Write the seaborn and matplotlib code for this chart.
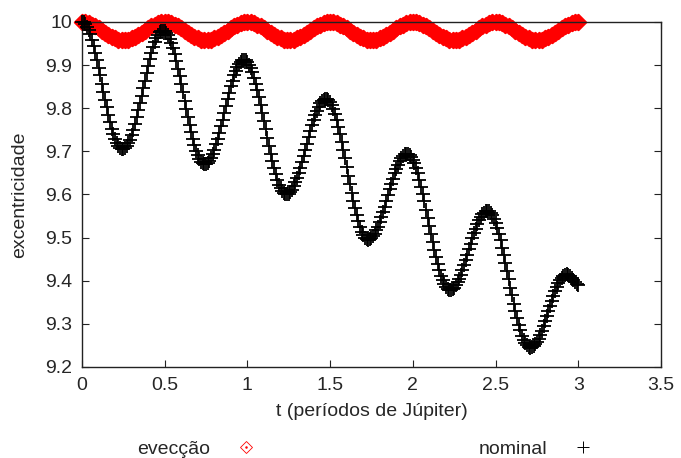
import numpy as np
import pandas as pd
import matplotlib
matplotlib.use("Agg")
import matplotlib.pyplot as plt
from matplotlib.lines import Line2D
import seaborn as sns

# Eccentricity (scaled) vs. time in Jupiter periods
evection = [
    10.000, 9.999, 9.997, 9.994, 9.990, 9.985, 9.980, 9.975, 9.970, 9.966, 9.962, 9.959, 9.958,
    9.958, 9.959, 9.962, 9.966, 9.970, 9.975, 9.980, 9.985, 9.990, 9.994, 9.997, 9.999,
    10.000, 9.999, 9.997, 9.994, 9.990, 9.985, 9.980, 9.975, 9.970, 9.966, 9.962, 9.959, 9.958,
    9.958, 9.959, 9.962, 9.966, 9.970, 9.975, 9.980, 9.985, 9.990, 9.994, 9.997, 9.999,
    10.000, 9.999, 9.997, 9.994, 9.990, 9.985, 9.980, 9.975, 9.970, 9.966, 9.962, 9.959, 9.958,
    9.958, 9.959, 9.962, 9.966, 9.970, 9.975, 9.980, 9.985, 9.990, 9.994, 9.997, 9.999,
    10.000, 9.999, 9.997, 9.994, 9.990, 9.985, 9.980, 9.975, 9.970, 9.966, 9.962, 9.959, 9.958,
    9.958, 9.959, 9.962, 9.966, 9.970, 9.975, 9.980, 9.985, 9.990, 9.994, 9.997, 9.999,
    10.000, 9.999, 9.997, 9.994, 9.990, 9.985, 9.980, 9.975, 9.970, 9.966, 9.962, 9.959, 9.958,
    9.958, 9.959, 9.962, 9.966, 9.970, 9.975, 9.980, 9.985, 9.990, 9.994, 9.997, 9.999,
    10.000, 9.999, 9.997, 9.994, 9.990, 9.985, 9.980, 9.975, 9.970, 9.966, 9.962, 9.959, 9.958,
    9.958, 9.959, 9.962, 9.966, 9.970, 9.975, 9.980, 9.985, 9.990, 9.994, 9.997, 9.999,
    10.000,
]

nominal = [
    10.000, 9.999, 9.995, 9.989, 9.981, 9.971, 9.958, 9.944, 9.929, 9.912, 9.894, 9.876, 9.857,
    9.838, 9.820, 9.802, 9.784, 9.768, 9.753, 9.740, 9.729, 9.720, 9.713, 9.708, 9.705,
    9.705, 9.708, 9.712, 9.719, 9.727, 9.738, 9.750, 9.764, 9.779, 9.795, 9.812, 9.829, 9.847,
    9.864, 9.882, 9.898, 9.914, 9.928, 9.941, 9.953, 9.962, 9.970, 9.976, 9.979, 9.980,
    9.979, 9.975, 9.969, 9.961, 9.951, 9.939, 9.925, 9.909, 9.892, 9.874, 9.856, 9.837, 9.817,
    9.798, 9.779, 9.761, 9.744, 9.728, 9.714, 9.701, 9.691, 9.682, 9.676, 9.672, 9.670,
    9.671, 9.673, 9.678, 9.685, 9.693, 9.704, 9.716, 9.729, 9.743, 9.758, 9.773, 9.789, 9.805,
    9.821, 9.836, 9.851, 9.864, 9.876, 9.887, 9.896, 9.903, 9.908, 9.911, 9.912,
    9.911, 9.907, 9.901, 9.893, 9.883, 9.871, 9.857, 9.842, 9.826, 9.808, 9.789, 9.770, 9.751,
    9.732, 9.713, 9.695, 9.678, 9.662, 9.647, 9.634, 9.623, 9.614, 9.607, 9.603, 9.600,
    9.600, 9.602, 9.606, 9.611, 9.619, 9.628, 9.638, 9.649, 9.662, 9.675, 9.689, 9.704, 9.718,
    9.733, 9.747, 9.760, 9.773, 9.784, 9.794, 9.803, 9.811, 9.816, 9.820, 9.822,
    9.822, 9.819, 9.814, 9.807, 9.798, 9.786, 9.772, 9.757, 9.740, 9.722, 9.703, 9.684, 9.664,
    9.643, 9.624, 9.604, 9.586, 9.568, 9.552, 9.538, 9.525, 9.514, 9.506, 9.500, 9.496, 9.495,
    9.496, 9.499, 9.503, 9.509, 9.517, 9.525, 9.536, 9.547, 9.559, 9.572, 9.585, 9.598, 9.612,
    9.625, 9.637, 9.649, 9.660, 9.669, 9.677, 9.684, 9.689, 9.693, 9.695,
    9.695, 9.692, 9.688, 9.681, 9.672, 9.661, 9.649, 9.634, 9.618, 9.602, 9.584, 9.565, 9.546,
    9.527, 9.508, 9.489, 9.471, 9.455, 9.439, 9.424, 9.412, 9.401, 9.392, 9.385, 9.381, 9.378,
    9.378, 9.380, 9.384, 9.389, 9.396, 9.404, 9.413, 9.424, 9.436, 9.448, 9.460, 9.473, 9.486,
    9.498, 9.510, 9.521, 9.532, 9.540, 9.548, 9.554, 9.558, 9.561, 9.562,
    9.561, 9.557, 9.552, 9.544, 9.534, 9.522, 9.509, 9.494, 9.477, 9.460, 9.441, 9.423, 9.404,
    9.384, 9.366, 9.347, 9.330, 9.313, 9.298, 9.285, 9.273, 9.263, 9.255, 9.250, 9.246, 9.245,
    9.246, 9.248, 9.253, 9.258, 9.266, 9.274, 9.284, 9.295, 9.306, 9.318, 9.330, 9.342, 9.354,
    9.365, 9.376, 9.386, 9.394, 9.402, 9.407, 9.412, 9.414, 9.415,
    9.414, 9.411, 9.407, 9.402, 9.397, 9.393, 9.389,
]

x_ticks = [0, 0.5, 1, 1.5, 2, 2.5, 3, 3.5]
x_tick_labels = ["0", "0.5", "1", "1.5", "2", "2.5", "3", "3.5"]
y_ticks = [9.2, 9.3, 9.4, 9.5, 9.6, 9.7, 9.8, 9.9, 10.0]
y_tick_labels = ["9.2", "9.3", "9.4", "9.5", "9.6", "9.7", "9.8", "9.9", "10"]

df_evec = pd.DataFrame({"t": np.linspace(0, 3, len(evection)), "e": evection})
df_nom = pd.DataFrame({"t": np.linspace(0, 3, len(nominal)), "e": nominal})

sns.set_style("ticks")
plt.rcParams["font.family"] = ["Liberation Sans", "DejaVu Sans"]
plt.rcParams["font.size"] = 14

fig = plt.figure(figsize=(6.81, 4.58), dpi=100)
ax = fig.add_axes([0.1204, 0.1987, 0.8502, 0.7533])

# evection run: dense filled diamonds forming a solid band
sns.scatterplot(data=df_evec, x="t", y="e", ax=ax, marker="D", s=60,
                color="#ff0000", linewidth=1.6, clip_on=False, zorder=2,
                legend=False)
band = ax.collections[-1]
band.set_facecolor("#ff0000")
band.set_edgecolor("#ff0000")
band.set_linewidth(1.6)

# nominal run: plus markers
sns.scatterplot(data=df_nom, x="t", y="e", ax=ax, marker="+", s=95,
                color="black", linewidth=1.3, clip_on=False, zorder=3,
                legend=False)

ax.set_xlim(0, 3.5)
ax.set_ylim(9.2, 10.0)
ax.set_xticks(x_ticks)
ax.set_xticklabels(x_tick_labels)
ax.set_yticks(y_ticks)
ax.set_yticklabels(y_tick_labels)
ax.tick_params(direction="in", length=5, width=0.8, color="#222222",
               top=True, right=True, labelsize=14, pad=7)
for sp in ax.spines.values():
    sp.set_linewidth(1.0)
    sp.set_color("#222222")
    sp.set_visible(True)

ax.set_xlabel("t (períodos de Júpiter)", fontsize=14, labelpad=7)
ax.set_ylabel("excentricidade", fontsize=14, labelpad=12)

diamond = Line2D([], [], linestyle="none", marker="D", markersize=6.5,
                 markerfacecolor="none", markeredgecolor="#ff0000",
                 markeredgewidth=0.6)
centre_dot = Line2D([], [], linestyle="none", marker="o", markersize=0.8,
                    color="#ff0000")
plus = Line2D([], [], linestyle="none", marker="+", markersize=9,
              color="black", markeredgewidth=0.7)
fig.legend([(diamond, centre_dot), plus], ["evecção", "nominal"], loc="center",
           bbox_to_anchor=(0.543, 0.02), ncol=2, markerfirst=False,
           frameon=False, fontsize=14, handletextpad=0.8,
           columnspacing=11, handlelength=2.0)

fig.savefig("out.png", dpi=100)
